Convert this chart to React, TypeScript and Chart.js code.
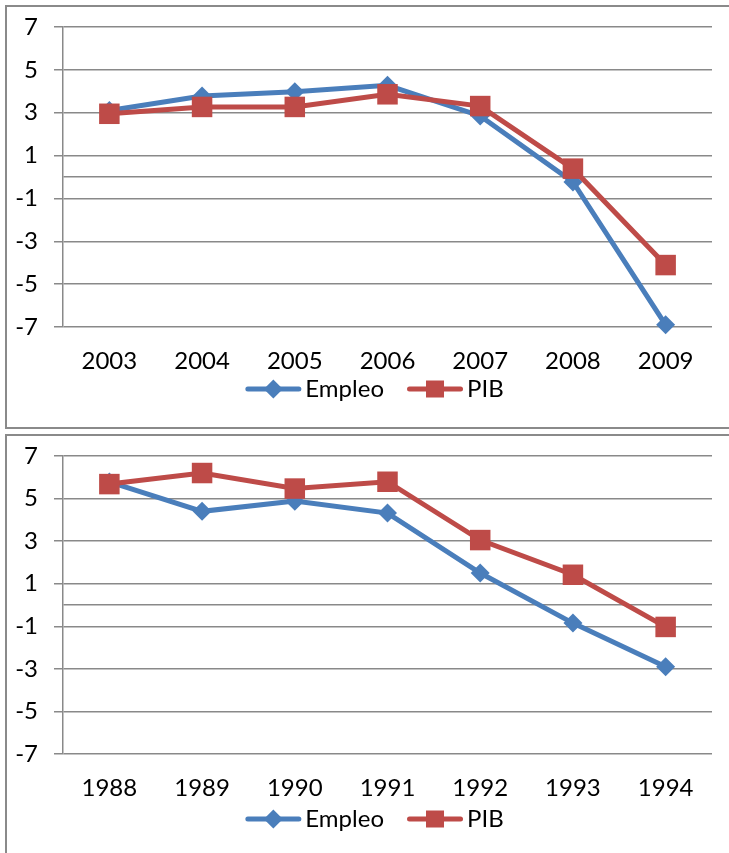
import React, { useEffect, useRef } from 'react';
import { Chart, registerables } from 'chart.js';

Chart.register(...registerables);

// Series values (annual % change)
const years2000s = ['2003', '2004', '2005', '2006', '2007', '2008', '2009'];
const empleo2000s = [3.1, 3.78, 3.98, 4.28, 2.85, -0.23, -6.9];
const pib2000s = [2.95, 3.27, 3.27, 3.86, 3.31, 0.39, -4.11];

const years1990s = ['1988', '1989', '1990', '1991', '1992', '1993', '1994'];
const empleo1990s = [5.78, 4.4, 4.88, 4.32, 1.5, -0.85, -2.9];
const pib1990s = [5.68, 6.2, 5.47, 5.79, 3.05, 1.42, -1.03];

// Value axis ticks; 0 carries the category axis line but no label
const yTicks = [-7, -5, -3, -1, 0, 1, 3, 5, 7];
const seriesNames = ['Empleo', 'PIB'];

const FONT_FAMILY = 'Lato, "Liberation Sans", sans-serif';
const FONT_SIZE = 24;
const GRID = '#898989';
const BLUE = '#4a7ebb';
const RED = '#be4b48';

const CANVAS_W = 749;
const Y_AXIS_W = 63;
const PLOT_RIGHT = 712;
const X_AXIS_H = 50;

// Legend geometry: line swatch with a marker, then the series name
const SWATCH_W = 56;
const TEXT_GAP = 4;
const ITEM_GAP = 23;

const lineLegend = {
  id: 'lineLegend',
  afterDraw(chart: any, _args: any, opts: any) {
    const { ctx } = chart;
    ctx.save();
    ctx.font = `${FONT_SIZE}px ${FONT_FAMILY}`;
    const items = chart.data.datasets.map((ds: any) => ({
      text: ds.label as string,
      color: ds.borderColor as string,
      style: ds.pointStyle as string,
    }));
    const widths = items.map((it: any) => SWATCH_W + TEXT_GAP + ctx.measureText(it.text).width);
    const total = widths.reduce((a: number, b: number) => a + b, 0) + ITEM_GAP * (items.length - 1);
    let x = chart.width / 2 - total / 2;
    const y = chart.chartArea.bottom + opts.offset;
    items.forEach((it: any, i: number) => {
      ctx.strokeStyle = it.color;
      ctx.lineWidth = 5;
      ctx.lineCap = 'round';
      ctx.beginPath();
      ctx.moveTo(x + 2.5, y);
      ctx.lineTo(x + SWATCH_W - 2.5, y);
      ctx.stroke();
      const cx = x + SWATCH_W / 2;
      ctx.fillStyle = it.color;
      if (it.style === 'rectRot') {
        ctx.beginPath();
        ctx.moveTo(cx - 9.5, y);
        ctx.lineTo(cx, y - 9.5);
        ctx.lineTo(cx + 9.5, y);
        ctx.lineTo(cx, y + 9.5);
        ctx.closePath();
        ctx.fill();
      } else {
        ctx.fillRect(cx - 9, y - 8.5, 18, 17);
      }
      ctx.fillStyle = '#000';
      ctx.textAlign = 'left';
      ctx.textBaseline = 'middle';
      ctx.fillText(it.text, x + SWATCH_W + TEXT_GAP, y);
      x += widths[i] + ITEM_GAP;
    });
    ctx.restore();
  },
};

type PanelProps = {
  top: number;
  height: number;
  plotTop: number;
  plotBottom: number;
  legendOffset: number;
  labels: string[];
  empleo: number[];
  pib: number[];
};

function Panel({ top, height, plotTop, plotBottom, legendOffset, labels, empleo, pib }: PanelProps) {
  const ref = useRef<HTMLCanvasElement | null>(null);

  useEffect(() => {
    if (!ref.current) return;
    const font = { family: FONT_FAMILY, size: FONT_SIZE };

    const chart = new Chart(ref.current, {
      type: 'line',
      data: {
        labels,
        datasets: [
          {
            label: seriesNames[0],
            data: empleo,
            borderColor: BLUE,
            backgroundColor: BLUE,
            borderWidth: 5,
            pointStyle: 'rectRot',
            pointRadius: 9.5,
            pointBorderWidth: 0,
            pointBackgroundColor: BLUE,
            tension: 0,
            clip: false,
            order: 1,
          },
          {
            label: seriesNames[1],
            data: pib,
            borderColor: RED,
            backgroundColor: RED,
            borderWidth: 5,
            pointStyle: 'rect',
            pointRadius: 14.5,
            pointBorderWidth: 0,
            pointBackgroundColor: RED,
            tension: 0,
            clip: false,
            order: 0,
          },
        ],
      },
      options: {
        animation: false,
        responsive: false,
        devicePixelRatio: 1,
        layout: {
          autoPadding: false,
          padding: {
            left: 0,
            right: CANVAS_W - PLOT_RIGHT,
            top: plotTop,
            bottom: height - plotBottom - X_AXIS_H,
          },
        },
        scales: {
          x: {
            type: 'category',
            offset: true,
            grid: { display: false, drawTicks: false },
            border: { display: false },
            ticks: { color: '#000', font, padding: 20, maxRotation: 0, autoSkip: false },
            afterFit: (scale: any) => {
              scale.height = X_AXIS_H;
              scale.paddingLeft = 0;
              scale.paddingRight = 0;
            },
          },
          y: {
            min: -7,
            max: 7,
            afterBuildTicks: (scale: any) => {
              scale.ticks = yTicks.map((value) => ({ value }));
            },
            afterFit: (scale: any) => {
              scale.width = Y_AXIS_W;
              scale.paddingTop = 0;
              scale.paddingBottom = 0;
            },
            grid: {
              color: GRID,
              lineWidth: 1.5,
              drawTicks: true,
              tickLength: 9,
              tickColor: (ctx: any) => (ctx.tick && ctx.tick.value === 0 ? 'rgba(0,0,0,0)' : GRID),
            },
            border: { display: true, color: GRID, width: 1.5 },
            ticks: {
              color: '#000',
              font,
              padding: 16,
              callback: (v: any) => (Number(v) === 0 ? '' : String(v)),
            },
          },
        },
        plugins: {
          tooltip: { enabled: false },
          legend: { display: false },
          lineLegend: { offset: legendOffset },
        },
      },
      plugins: [lineLegend],
    } as any);

    return () => chart.destroy();
  }, []);

  return (
    <canvas
      ref={ref}
      width={CANVAS_W}
      height={height}
      style={{ position: 'absolute', left: 0, top, width: CANVAS_W, height }}
    />
  );
}

export default function App() {
  const frame = {
    position: 'absolute' as const,
    left: 5,
    border: '2px solid #8a8a8a',
    boxSizing: 'border-box' as const,
    background: '#fff',
  };
  return (
    <div
      style={{
        position: 'fixed',
        left: 0,
        top: 0,
        width: 729,
        height: 853,
        overflow: 'hidden',
        background: '#fff',
      }}
    >
      <div style={{ ...frame, top: 5, width: 760, height: 424 }} />
      <div style={{ ...frame, top: 434, width: 760, height: 500 }} />
      <Panel
        top={0}
        height={428}
        plotTop={27}
        plotBottom={327}
        legendOffset={62}
        labels={years2000s}
        empleo={empleo2000s}
        pib={pib2000s}
      />
      <Panel
        top={429}
        height={426}
        plotTop={27}
        plotBottom={325}
        legendOffset={65}
        labels={years1990s}
        empleo={empleo1990s}
        pib={pib1990s}
      />
    </div>
  );
}
